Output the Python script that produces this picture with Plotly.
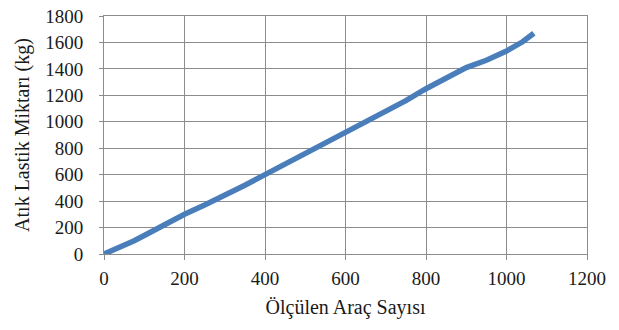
import plotly.graph_objects as go

arac_sayisi = [0, 25, 50, 75, 100, 125, 150, 175, 200, 250, 275, 300, 350, 400, 450, 500,
               550, 600, 650, 700, 750, 800, 850, 880, 900, 950, 1000, 1040, 1068]
lastik_kg = [0, 30, 62, 100, 140, 180, 225, 262, 300, 370, 405, 445, 520, 600, 680, 760,
             840, 920, 995, 1075, 1160, 1250, 1330, 1385, 1410, 1465, 1535, 1605, 1670]

x_ticks = [0, 200, 400, 600, 800, 1000, 1200]
y_ticks = [0, 200, 400, 600, 800, 1000, 1200, 1400, 1600, 1800]

FONT = "Liberation Serif"
GRID = "#8c8c8c"

fig = go.Figure()
fig.add_trace(go.Scatter(
    x=arac_sayisi, y=lastik_kg, mode="lines",
    line=dict(color="#4A7EBB", width=5.5),
    showlegend=False, hoverinfo="skip"))

fig.update_layout(
    width=619, height=330,
    margin=dict(l=103.5, r=32, t=15.5, b=76),
    paper_bgcolor="white", plot_bgcolor="white",
    font=dict(family=FONT, size=19, color="#1a1a1a"),
    xaxis=dict(
        range=[0, 1200], tickvals=x_ticks, ticktext=[str(v) for v in x_ticks],
        showgrid=True, gridcolor=GRID, gridwidth=1, zeroline=False,
        showline=True, linecolor=GRID, linewidth=1, mirror=True,
        ticks="outside", ticklen=5, tickcolor=GRID, ticklabelstandoff=2,
        ticklabeloverflow="allow",
        tickfont=dict(family=FONT, size=19),
        title=dict(text="Ölçülen Araç Sayısı", font=dict(family=FONT, size=20), standoff=12),
        automargin=False, fixedrange=True),
    yaxis=dict(
        range=[0, 1800], tickvals=y_ticks, ticktext=[str(v) for v in y_ticks],
        showgrid=True, gridcolor=GRID, gridwidth=1, zeroline=False,
        showline=True, linecolor=GRID, linewidth=1, mirror=True,
        ticks="outside", ticklen=4, tickcolor=GRID, ticklabelstandoff=12,
        ticklabeloverflow="allow",
        tickfont=dict(family=FONT, size=19),
        title=dict(text="Atık Lastik Miktarı (kg)", font=dict(family=FONT, size=20), standoff=10),
        automargin=False, fixedrange=True),
)

fig.write_html("out.html", config={"displayModeBar": False, "staticPlot": True},
               post_script="document.body.style.margin='0';")
